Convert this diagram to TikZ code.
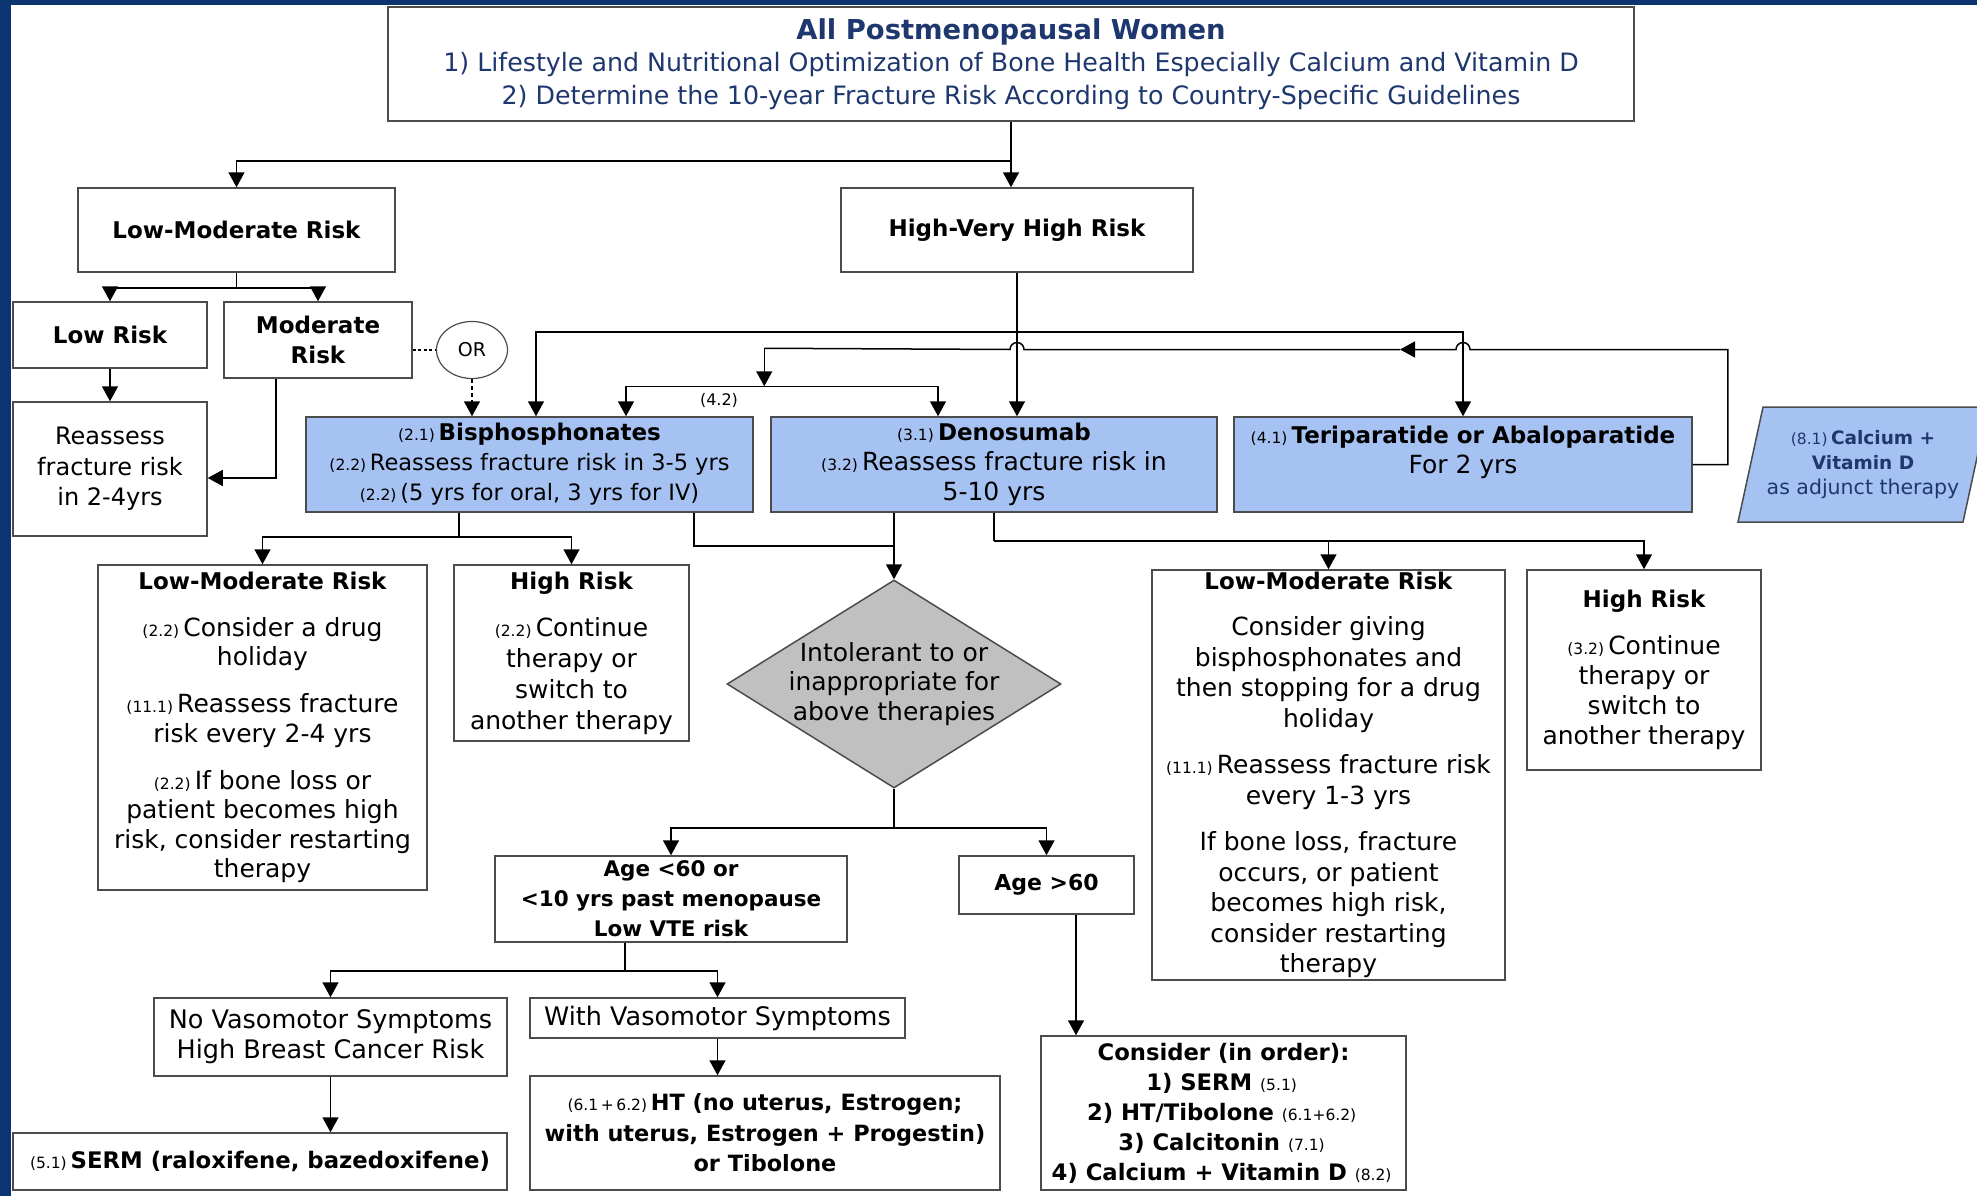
\documentclass[tikz,border=0pt]{standalone}
\usepackage{fontspec}
\setmainfont{DejaVu Sans}
\usepackage{xcolor}
\usetikzlibrary{shapes.geometric, arrows.meta, calc}

\definecolor{bluscuro}{RGB}{12,52,112}
\definecolor{azzurro}{RGB}{166,194,243}
\definecolor{grigiorombo}{RGB}{192,192,192}
\definecolor{blutesto}{RGB}{30,55,110}

\newcommand{\rif}[1]{{\mdseries\fontsize{15.5}{18}\selectfont(#1)}\,}
\newcommand{\grass}[1]{{\fontsize{23}{30}\selectfont\bfseries #1}}

\begin{document}
\begin{tikzpicture}[x=1pt, y=-1pt, >={Triangle[width=16pt,length=15pt]},
    box/.style={draw=black!70, line width=1.5pt, fill=white, inner sep=0pt, align=center, font=\fontsize{25}{30}\selectfont},
    terapia/.style={box, fill=azzurro},
    linea/.style={line width=1.5pt},
    freccia/.style={linea, ->}]
        % Sfondo e cornice blu
        \useasboundingbox (0,0) rectangle (1977,1196);
        \fill[white] (0,0) rectangle (1977,1196);
        \fill[bluscuro] (0,0) rectangle (11,1196);
        \fill[bluscuro] (0,0) rectangle (1977,5);
        
        % Riquadro iniziale
        \node[box, minimum width=1246, minimum height=114, text=blutesto, font=\fontsize{25.3}{32.5}\selectfont] (top) at (1011,64)
        {{\fontsize{27.4}{32.5}\selectfont\bfseries All Postmenopausal Women}\\
         1) Lifestyle and Nutritional Optimization of Bone Health Especially Calcium and Vitamin D\\
         2) Determine the 10-year Fracture Risk According to Country-Specific Guidelines};
        
        % Classi di rischio
        \node[box, minimum width=317, minimum height=84] (lowmod) at (236.5,230) {\grass{Low-Moderate Risk}};
        \node[box, minimum width=352, minimum height=84] (high) at (1017,230) {\grass{High-Very High Risk}};
        \node[box, minimum width=194, minimum height=66] (lowrisk) at (110,335) {\grass{Low Risk}};
        \node[box, minimum width=188, minimum height=76] (modrisk) at (318,340) {\grass{Moderate}\\ \grass{Risk}};
        \node[box, minimum width=194, minimum height=134, font=\fontsize{24}{30.5}\selectfont] (reassess) at (110,469)
        {Reassess\\ fracture risk\\ in 2-4yrs};
        \node[draw=black!70, line width=1.2pt, ellipse, minimum width=71, minimum height=57, inner sep=0pt,
              font=\fontsize{19}{22}\selectfont] (orn) at (472,350) {OR};
        
        % Terapie (riquadri azzurri)
        \node[terapia, minimum width=447, minimum height=95, font=\fontsize{22.5}{30}\selectfont] (bisph) at (529.5,464.5)
        {\rif{2.1}\grass{Bisphosphonates}\\ \rif{2.2}Reassess fracture risk in 3-5 yrs\\ \rif{2.2}(5 yrs for oral, 3 yrs for IV)};
        \node[terapia, minimum width=446, minimum height=95] (deno) at (994,464.5)
        {\rif{3.1}\grass{Denosumab}\\ \rif{3.2}Reassess fracture risk in\\ 5-10 yrs};
        \node[terapia, minimum width=458, minimum height=95] (teri) at (1463,464.5)
        {\rif{4.1}\grass{Teriparatide or Abaloparatide}\\ For 2 yrs\\ \mbox{}};
        \node[font=\fontsize{16}{18}\selectfont] (lab42) at (719,400) {(4.2)};
        
        % Parallelogramma terapia adiuvante
        \fill[azzurro, draw=black!70, line width=1.5pt] (1738,522) -- (1763,407) -- (1988,407) -- (1963,522) -- cycle;
        \node[align=center, text=blutesto, font=\fontsize{20.5}{25}\selectfont] (adj) at (1863,465)
        {\rif{8.1}{\fontsize{18.5}{25}\selectfont\bfseries Calcium +}\\ {\fontsize{18.5}{25}\selectfont\bfseries Vitamin D}\\ as adjunct therapy};
        
        % Rivalutazione dopo bifosfonati
        \node[box, minimum width=329, minimum height=325, font=\fontsize{25}{29.5}\selectfont] (lowmodL) at (262.5,727.5)
        {\grass{Low-Moderate Risk}\\[17.5pt] \rif{2.2}Consider a drug\\ holiday\\[17.5pt]
         \rif{11.1}Reassess fracture\\ risk every 2-4 yrs\\[17.5pt]
         \rif{2.2}If bone loss or\\ patient becomes high\\ risk, consider restarting\\ therapy};
        \node[box, minimum width=235, minimum height=176, font=\fontsize{25}{31}\selectfont] (highL) at (571.5,653)
        {\grass{High Risk}\\[16pt] \rif{2.2}Continue\\ therapy or\\ switch to\\ another therapy};
        
        % Rombo decisionale
        \node[diamond, aspect=1.6, draw=black!70, line width=1.5pt, fill=grigiorombo, inner sep=-5pt,
              minimum width=334, minimum height=208, align=center, font=\fontsize{25}{29.5}\selectfont] (diam) at (894,684)
        {Intolerant to or\\ inappropriate for\\ above therapies};
        
        % Rivalutazione dopo denosumab
        \node[box, minimum width=353, minimum height=410, font=\fontsize{25}{30.5}\selectfont] (lowmodR) at (1328.5,775)
        {\grass{Low-Moderate Risk}\\[16pt] Consider giving\\ bisphosphonates and\\ then stopping for a drug\\ holiday\\[16pt]
         \rif{11.1}Reassess fracture risk\\ every 1-3 yrs\\[16pt]
         If bone loss, fracture\\ occurs, or patient\\ becomes high risk,\\ consider restarting\\ therapy};
        \node[box, minimum width=234, minimum height=200] (highR) at (1644,670)
        {\grass{High Risk}\\[17pt] \rif{3.2}Continue\\ therapy or\\ switch to\\ another therapy};
        
        % Eta'
        \node[box, minimum width=352, minimum height=86, font=\fontsize{21.5}{30}\selectfont\bfseries] (age1) at (671,899)
        {Age <60 or\\ <10 yrs past menopause\\ Low VTE risk};
        \node[box, minimum width=175, minimum height=58, font=\fontsize{22}{30}\selectfont\bfseries] (age2) at (1046.5,885) {Age >60};
        \node[box, minimum width=353, minimum height=78, font=\fontsize{25.5}{30}\selectfont] (novaso) at (330.5,1037)
        {No Vasomotor Symptoms\\ High Breast Cancer Risk};
        \node[box, minimum width=375, minimum height=40, font=\fontsize{25.5}{30}\selectfont] (withvaso) at (717.5,1018)
        {With Vasomotor Symptoms};
        \node[box, minimum width=494, minimum height=57, font=\fontsize{22.8}{30}\selectfont\bfseries] (serm) at (260,1161.5)
        {\rif{5.1}SERM (raloxifene, bazedoxifene)};
        \node[box, minimum width=470, minimum height=114, font=\fontsize{22.4}{30.5}\selectfont\bfseries] (ht) at (765,1133)
        {\rif{6.1\,+\,6.2}HT (no uterus, Estrogen;\\ with uterus, Estrogen + Progestin)\\ or Tibolone};
        \node[box, minimum width=365, minimum height=154, font=\fontsize{22.7}{30}\selectfont\bfseries] (cons) at (1223.5,1113)
        {Consider (in order):\\ 1) SERM \rif{5.1}\\ 2) HT/Tibolone \rif{6.1+6.2}\\ 3) Calcitonin \rif{7.1}\\ 4) Calcium + Vitamin D \rif{8.2}};
        
        % Collegamenti dall'alto
        \coordinate (j1) at ($(top.south)+(0,39)$);
        \draw[linea] (top.south) -- (j1);
        \draw[freccia] (j1) -| (lowmod.north);
        \draw[freccia] (j1) -- (j1 |- high.north);
        
        \coordinate (j2) at ($(lowmod.south)+(0,15)$);
        \draw[linea] (lowmod.south) -- (j2);
        \foreach \n in {lowrisk,modrisk}
            \draw[freccia] (j2) -| (\n.north);
        \draw[freccia] (lowrisk) -- (reassess);
        \coordinate (m1) at ($(modrisk.south)+(-42,0)$);
        \draw[freccia] (m1) |- ($(reassess.east)+(0,9)$);
        
        % Ramo OR tratteggiato
        \draw[linea, dash pattern=on 3pt off 2.5pt] (modrisk.east |- orn.west) -- (orn.west);
        \draw[freccia, dash pattern=on 4pt off 3pt] (orn.south) -- (orn.south |- bisph.north);
        
        % Alto rischio verso le terapie
        \coordinate (j3) at ($(high.south)+(0,59)$);
        \draw[freccia] (high.south) -- (high.south |- deno.north);
        \draw[freccia] (j3) -| ($(bisph.north)+(6.5,0)$);
        \draw[freccia] (j3) -| (teri.north);
        
        % Ritorno (4.2) con salti sulle linee
        \coordinate (k1) at ($(teri.east)+(35,-115)$);
        \coordinate (k2) at ($(teri.north |- k1)+(-63,0)$);
        \coordinate (k3) at ($(deno.north west)+(-6,-68)$);
        \draw[freccia] (teri.east) -| (k1) -- ($(teri.north |- k1)+(7,0)$)
            arc[start angle=0, end angle=180, radius=7pt] -- (k2);
        \draw[linea] (k2) -- ($(high.south |- k1)+(7,0)$)
            arc[start angle=0, end angle=180, radius=7pt] -- (k3);
        \coordinate (j4a) at ($(bisph.north)+(96.5,-30)$);
        \coordinate (j4b) at ($(deno.north)+(-56,-30)$);
        \draw[linea] (j4a) -- (j4b);
        \draw[freccia] (k3) -- (k3 |- j4a);
        \draw[freccia] (j4a) -- (j4a |- bisph.north);
        \draw[freccia] (j4b) -- (j4b |- deno.north);
        
        % Bifosfonati verso rivalutazione e rombo
        \coordinate (j5) at ($(bisph.south)+(-70.5,24)$);
        \draw[linea] (j5 |- bisph.south) -- (j5);
        \foreach \n in {lowmodL,highL}
            \draw[freccia] (j5) -| (\n.north);
        \coordinate (j6) at ($(bisph.south)+(164.5,33)$);
        \draw[linea] (j6 |- bisph.south) -- (j6) -- (j6 -| diam.north);
        \draw[freccia] (diam.north |- deno.south) -- (diam.north);
        
        % Denosumab verso rivalutazione
        \coordinate (j7) at ($(deno.south)+(0,28)$);
        \draw[linea] (deno.south) -- (j7);
        \foreach \n in {lowmodR,highR}
            \draw[freccia] (j7) -| (\n.north);
        
        % Rombo verso le classi di eta'
        \coordinate (j8) at ($(diam.south)+(0,39)$);
        \draw[linea] (diam.south) -- (j8);
        \foreach \n in {age1,age2}
            \draw[freccia] (j8) -| (\n.north);
        \coordinate (a2) at ($(age2.south)+(29.5,0)$);
        \draw[freccia] (a2) -- (a2 |- cons.north);
        
        \coordinate (a1) at ($(age1.south)+(-46,0)$);
        \coordinate (j9) at ($(age1.south)+(-46,28)$);
        \draw[linea] (a1) -- (j9);
        \foreach \n in {novaso,withvaso}
            \draw[freccia] (j9) -| (\n.north);
        \draw[freccia] (novaso.south) -- (novaso.south |- serm.north);
        \draw[freccia] (withvaso.south) -- (withvaso.south |- ht.north);
        
\end{tikzpicture}
\end{document}
